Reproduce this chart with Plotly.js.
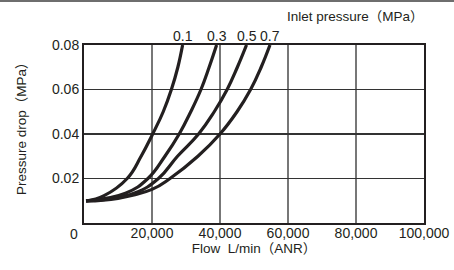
<!DOCTYPE html>
<html>
<head>
<meta charset="utf-8">
<script src="https://cdn.plot.ly/plotly-3.0.1.min.js"></script>
<style>
html,body{margin:0;padding:0;background:#fff;}
#wrap{position:relative;width:454px;height:270px;}
#chart{width:454px;height:270px;}
#topline{position:absolute;left:0;top:0;width:454px;height:2px;background:#6e6e6e;}
</style>
</head>
<body>
<div id="wrap"><div id="chart"></div><div id="topline"></div></div>
<script>
// Inlet pressure labels (MPa)
const seriesNames = ["0.1", "0.3", "0.5", "0.7"];
// Flow L/min (ANR) and pressure drop (MPa)
const flow01 = [600, 5900, 12700, 16800, 20200, 23300, 25700, 27600, 29000];
const drop01 = [0.0099, 0.0123, 0.020, 0.030, 0.040, 0.050, 0.060, 0.070, 0.080];
const flow03 = [600, 12200, 18800, 23800, 28000, 31400, 34400, 36800, 39000];
const drop03 = [0.0099, 0.0134, 0.020, 0.030, 0.040, 0.050, 0.060, 0.070, 0.080];
const flow05 = [600, 14700, 21900, 27500, 33700, 38300, 42100, 45100, 47800];
const drop05 = [0.0099, 0.0134, 0.020, 0.030, 0.040, 0.050, 0.060, 0.070, 0.080];
const flow07 = [600, 10000, 20000, 25300, 33500, 40000, 45000, 49000, 52100, 54700];
const drop07 = [0.0099, 0.0111, 0.0151, 0.020, 0.030, 0.040, 0.050, 0.060, 0.070, 0.080];
const xTicks = [20000, 40000, 60000, 80000, 100000];
const xTickText = ["20,000", "40,000", "60,000", "80,000", "100,000"];
const yTicks = [0.02, 0.04, 0.06, 0.08];
const yTickText = ["0.02", "0.04", "0.06", "0.08"];

const flows = [flow01, flow03, flow05, flow07];
const drops = [drop01, drop03, drop05, drop07];
const FONT = "Liberation Sans, Arial, Noto Sans CJK JP, sans-serif";
const INK = "#231f20";

const traces = flows.map((f, i) => ({
  x: f, y: drops[i], type: "scatter", mode: "lines",
  line: {color: INK, width: 3.2, shape: "spline", smoothing: 1.25},
  name: seriesNames[i], hoverinfo: "skip"
}));

const annotations = flows.map((f, i) => ({
  x: f[f.length - 1], y: 1, xref: "x", yref: "paper",
  yanchor: "bottom", yshift: -1, text: seriesNames[i], showarrow: false,
  font: {size: 14, color: INK, family: FONT}
}));
annotations.push({
  x: 1, y: 1, xref: "paper", yref: "paper", xanchor: "right", yanchor: "bottom",
  xshift: 2, yshift: 19, text: "Inlet pressure（MPa）", showarrow: false,
  font: {size: 13.5, color: INK, family: FONT}
});
annotations.push({
  x: 0, y: 0, xref: "paper", yref: "paper", xanchor: "center", yanchor: "middle",
  xshift: -10, yshift: -11, text: "0", showarrow: false,
  font: {size: 14, color: INK, family: FONT}
});
annotations.push({
  x: 0, y: 0.5, xref: "paper", yref: "paper", xanchor: "center", yanchor: "middle",
  xshift: -63, yshift: 9, textangle: -90, text: "Pressure drop（MPa）", showarrow: false,
  font: {size: 13.5, color: INK, family: FONT}
});

const layout = {
  width: 454, height: 270,
  margin: {l: 84, r: 30, t: 45, b: 47},
  paper_bgcolor: "#fff", plot_bgcolor: "#fff",
  showlegend: false,
  font: {family: FONT, size: 14, color: INK},
  xaxis: {
    range: [0, 100000], tickvals: xTicks, ticktext: xTickText,
    showgrid: true, gridcolor: "#777", gridwidth: 1.2,
    showline: true, mirror: true, linecolor: INK, linewidth: 2,
    ticks: "", ticklabelstandoff: -4, zeroline: false,
    tickfont: {size: 14, family: FONT, color: INK},
    title: {text: "Flow\u00a0 L/min（ANR）", font: {size: 13.5, family: FONT, color: INK}, standoff: 2}
  },
  yaxis: {
    range: [0, 0.08], tickvals: yTicks, ticktext: yTickText,
    showgrid: true, gridcolor: "#333", gridwidth: 1.2,
    showline: true, mirror: true, linecolor: INK, linewidth: 2,
    ticks: "", zeroline: false,
    tickfont: {size: 14, family: FONT, color: INK}
  },
  annotations: annotations
};

Plotly.newPlot("chart", traces, layout, {staticPlot: true, displayModeBar: false});
</script>
</body>
</html>
